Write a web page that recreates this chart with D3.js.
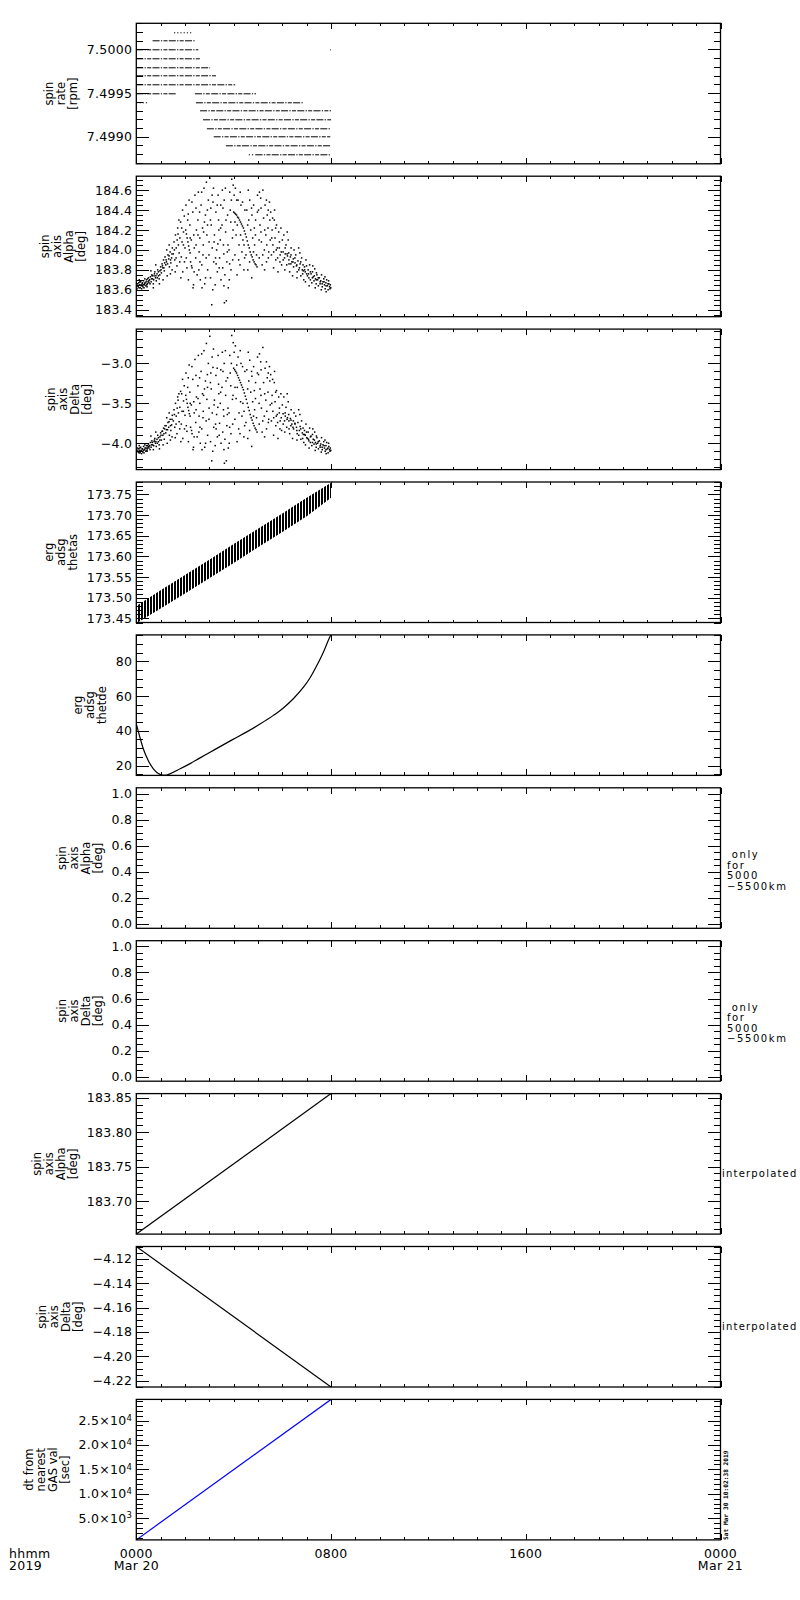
<!DOCTYPE html>
<html><head><meta charset="utf-8">
<script src="https://cdn.jsdelivr.net/npm/d3@7"></script>
<style>
body{margin:0;background:#fff;}
svg{display:block;font-family:"DejaVu Sans",sans-serif;}
</style></head><body>
<svg id="chart" width="800" height="1600"></svg>
<script>
// ---------------- DATA ----------------
const titles = [
  ["spin","rate","[rpm]"],
  ["spin","axis","Alpha","[deg]"],
  ["spin","axis","Delta","[deg]"],
  ["erg","adsg","thetas"],
  ["erg","adsg","thetde"],
  ["spin","axis","Alpha","[deg]"],
  ["spin","axis","Delta","[deg]"],
  ["spin","axis","Alpha","[deg]"],
  ["spin","axis","Delta","[deg]"],
  ["dt from","nearest","GAS val","[sec]"]
];
const yDomains = [
  [7.49869, 7.50030], [183.33, 184.74], [-4.33, -2.57], [173.44, 173.78], [14.3, 95.3],
  [-0.035, 1.044], [-0.035, 1.044], [183.652, 183.856], [-4.2251, -4.110], [540, 29340]
];
const yMajorTicks = [
  [7.4990, 7.4995, 7.5000],
  [183.4, 183.6, 183.8, 184.0, 184.2, 184.4, 184.6],
  [-4.0, -3.5, -3.0],
  [173.45, 173.50, 173.55, 173.60, 173.65, 173.70, 173.75],
  [20, 40, 60, 80],
  [0.0, 0.2, 0.4, 0.6, 0.8, 1.0],
  [0.0, 0.2, 0.4, 0.6, 0.8, 1.0],
  [183.70, 183.75, 183.80, 183.85],
  [-4.22, -4.20, -4.18, -4.16, -4.14, -4.12],
  [5000, 10000, 15000, 20000, 25000]
];
const yMinorSteps = [0.0001, 0.05, 0.1, 0.01, 5, 0.05, 0.05, 0.01, 0.005, 1000];
const yDecimals = [4, 1, 1, 2, 0, 1, 1, 2, 2, 1];
const dtTickLabels = [["5.0","3"],["1.0","4"],["1.5","4"],["2.0","4"],["2.5","4"]];

const xTickHours = [0, 8, 16, 24];
const xTickLabels = [["0000","Mar 20"],["0800",""],["1600",""],["0000","Mar 21"]];
const xCornerLabel = ["hhmm","2019"];
const sideNoteRange = [" only","for","5000","\u22125500km"];
const sideNoteInterp = "interpolated";
const stampText = "Sat Mar 30 10:02:38 2019";

// spin rate rows: [value, startHour, endHour]
const rateRows = [
  [7.5001, 0.67, 2.45], [7.5000, 0.00, 2.55], [7.4999, 0.00, 2.62], [7.4998, 0.00, 3.03],
  [7.4997, 0.00, 3.32], [7.4996, 0.00, 4.06], [7.4995, 0.00, 1.63], [7.4995, 2.41, 4.92],
  [7.4994, 2.45, 6.86], [7.4993, 2.62, 8.00], [7.4992, 2.74, 8.00], [7.4991, 2.90, 8.00],
  [7.4990, 3.18, 7.97], [7.4989, 3.68, 8.00], [7.4988, 4.90, 8.00]
];
const rateDotted = [
  [7.5002, 1.55, 2.33], [7.4994, 0.00, 0.47], [7.4988, 4.62, 4.90], [7.5000, 7.96, 7.99]
];

// spin axis alpha samples [hour, deg]
const alphaPts = [
[0.02,183.64],[0.05,183.66],[0.08,183.63],[0.10,183.67],[0.13,183.65],[0.16,183.62],[0.18,183.68],[0.21,183.64],[0.24,183.66],[0.27,183.63],[0.30,183.69],[0.33,183.65],[0.36,183.67],[0.39,183.64],[0.42,183.70],[0.45,183.66],[0.48,183.68],[0.50,183.72],[0.03,183.61],[0.12,183.70],[0.22,183.61],[0.35,183.71],[0.44,183.63],
[0.52,183.67],[0.55,183.70],[0.58,183.73],[0.61,183.68],[0.64,183.75],[0.67,183.71],[0.70,183.66],[0.73,183.74],[0.76,183.78],[0.79,183.72],[0.82,183.69],[0.85,183.76],[0.88,183.80],[0.91,183.74],[0.94,183.71],[0.97,183.79],[1.00,183.83],[0.60,183.79],[0.80,183.85],[0.95,183.66],[0.70,183.62],
[1.03,183.77],[1.06,183.86],[1.09,183.82],[1.12,183.90],[1.15,183.79],[1.18,183.93],[1.21,183.85],[1.24,183.88],[1.27,183.74],[1.30,183.95],[1.33,183.91],[1.36,183.83],[1.39,183.98],[1.42,183.87],[1.45,183.92],[1.48,184.02],[1.10,183.70],[1.25,184.00],[1.40,183.76],[1.35,184.05],[1.47,183.80],
[1.52,183.96],[1.55,184.08],[1.58,183.90],[1.61,184.15],[1.64,184.02],[1.67,183.84],[1.70,184.22],[1.73,184.05],[1.76,183.97],[1.79,184.12],[1.82,184.28],[1.85,183.93],[1.88,184.08],[1.91,183.78],[1.94,184.18],[1.97,184.34],[2.00,184.02],[1.60,183.78],[1.75,184.30],[1.90,184.40],[1.68,184.10],[1.83,183.72],[1.98,183.88],
[2.03,184.20],[2.06,184.16],[2.09,184.12],[2.12,184.08],[2.15,184.04],[2.18,184.00],[2.21,183.97],[2.04,184.45],[2.08,183.82],[2.11,184.30],[2.14,183.70],[2.17,184.50],[2.20,184.25],[2.23,183.88],[2.26,184.10],[2.29,183.82],[2.32,184.38],[2.35,183.65],[2.38,184.02],[2.41,184.55],[2.44,183.92],[2.47,184.20],[2.50,183.75],[2.27,183.84],[2.36,184.15],[2.45,184.42],[2.33,183.62],
[2.53,184.30],[2.55,184.58],[2.58,183.98],[2.61,184.12],[2.63,183.70],[2.66,184.45],[2.69,183.85],[2.72,184.22],[2.75,184.05],[2.78,184.62],[2.81,183.66],[2.84,184.35],[2.87,183.92],[2.90,184.15],[2.93,183.80],[2.96,184.50],[2.99,184.08],[2.60,184.38],[2.70,183.62],[2.80,184.28],[2.92,184.40],[2.57,183.80],[2.88,184.68],[2.74,183.95],
[3.02,184.72],[3.05,183.72],[3.08,184.25],[3.10,183.45],[3.12,184.02],[3.15,184.48],[3.18,183.88],[3.21,184.15],[3.24,183.65],[3.27,184.38],[3.30,184.00],[3.33,183.78],[3.36,184.55],[3.39,184.20],[3.42,183.92],[3.45,184.10],[3.48,183.70],[3.06,184.42],[3.17,184.62],[3.28,183.86],[3.38,184.30],[3.47,184.45],[3.14,183.60],[3.35,184.06],
[3.52,184.25],[3.55,183.82],[3.58,184.05],[3.61,184.50],[3.62,183.47],[3.64,183.75],[3.67,184.18],[3.70,183.49],[3.72,183.88],[3.75,184.35],[3.78,183.62],[3.81,184.00],[3.84,184.58],[3.86,184.40],[3.89,183.80],[3.92,184.71],[3.95,184.12],[3.98,184.65],[3.56,184.42],[3.66,184.62],[3.74,183.98],[3.82,183.70],[3.88,184.28],[3.96,183.90],[3.60,183.64],
[4.00,184.38],[4.04,184.37],[4.08,184.36],[4.12,184.35],[4.16,184.33],[4.20,184.32],[4.24,184.30],[4.28,184.28],[4.32,184.26],[4.36,184.24],[4.40,184.22],[4.44,184.19],[4.48,184.16],
[4.02,184.55],[4.05,183.95],[4.10,184.15],[4.14,183.75],[4.18,184.50],[4.22,184.05],[4.26,183.85],[4.30,184.45],[4.34,183.98],[4.38,184.10],[4.42,183.80],[4.46,184.40],[4.07,184.62],[4.27,184.58],[4.45,183.92],[4.15,184.25],
[4.52,184.13],[4.56,184.09],[4.60,184.05],[4.64,184.02],[4.68,183.98],[4.72,183.95],[4.76,183.93],[4.80,183.90],[4.84,183.88],[4.88,183.86],[4.92,183.85],[4.96,183.83],
[4.54,184.40],[4.58,183.80],[4.62,184.30],[4.66,184.50],[4.70,184.20],[4.74,183.72],[4.78,184.12],[4.82,184.45],[4.86,184.05],[4.90,184.30],[4.94,183.95],[4.98,184.55],[4.60,184.60],[4.85,184.22],[4.75,184.35],
[5.02,184.40],[5.05,183.92],[5.08,184.25],[5.11,184.52],[5.14,184.08],[5.17,183.85],[5.20,184.60],[5.23,184.32],[5.26,184.00],[5.29,184.45],[5.32,184.15],[5.35,183.88],[5.38,184.35],[5.41,184.22],[5.44,183.98],[5.47,184.48],[5.50,184.10],[5.12,184.18],[5.27,183.80],[5.42,184.40],[5.06,184.58],[5.36,184.05],
[5.52,184.38],[5.55,183.95],[5.58,184.20],[5.61,184.05],[5.64,183.82],[5.67,184.30],[5.70,184.12],[5.73,183.90],[5.76,184.25],[5.79,184.02],[5.82,183.78],[5.85,184.18],[5.88,184.08],[5.91,183.95],[5.94,184.22],[5.97,183.85],[6.00,184.10],[5.60,184.32],[5.75,184.00],[5.90,183.88],[5.68,184.40],
[6.03,183.98],[6.06,184.15],[6.09,183.92],[6.12,183.96],[6.15,184.05],[6.18,183.85],[6.21,183.94],[6.24,184.10],[6.27,183.90],[6.30,183.78],[6.33,183.93],[6.36,184.02],[6.39,183.88],[6.42,183.74],[6.45,183.91],[6.48,184.00],[6.10,183.80],[6.20,184.18],[6.35,183.86],[6.46,183.83],[6.26,183.97],
[6.52,183.87],[6.55,183.95],[6.58,183.84],[6.61,183.78],[6.64,183.89],[6.67,184.02],[6.70,183.82],[6.73,183.86],[6.76,183.74],[6.79,183.92],[6.82,183.80],[6.85,183.85],[6.88,183.70],[6.91,183.83],[6.94,183.78],[6.97,183.90],[7.00,183.76],[6.60,183.72],[6.72,183.97],[6.86,183.79],[6.95,183.68],
[7.03,183.74],[7.06,183.80],[7.09,183.72],[7.12,183.85],[7.15,183.70],[7.18,183.76],[7.21,183.67],[7.24,183.78],[7.27,183.73],[7.30,183.69],[7.33,183.81],[7.36,183.71],[7.39,183.66],[7.42,183.75],[7.45,183.70],[7.48,183.64],[7.10,183.64],[7.25,183.84],[7.40,183.77],[7.35,183.62],
[7.52,183.72],[7.55,183.66],[7.58,183.69],[7.61,183.75],[7.64,183.63],[7.67,183.68],[7.70,183.71],[7.73,183.65],[7.76,183.61],[7.79,183.67],[7.82,183.70],[7.85,183.64],[7.88,183.60],[7.91,183.66],[7.94,183.63],[7.97,183.65],[7.99,183.62],[7.60,183.60],[7.75,183.73],[7.90,183.69],[7.80,183.58],
[0.015,183.66],[0.065,183.64],[0.115,183.62],[0.145,183.68],[0.195,183.65],[0.255,183.67],[0.285,183.65],[0.315,183.62],[0.345,183.66],[0.405,183.68],[0.435,183.65],[0.465,183.71],[0.515,183.69],[0.565,183.66],[0.625,183.71],[0.655,183.74],[0.715,183.70],[0.745,183.76],[0.805,183.74],[0.865,183.72],[0.905,183.78],[0.965,183.75],[1.015,183.80],[1.075,183.84],[1.135,183.82],[1.165,183.87],[1.225,183.90],[1.285,183.86],[1.345,183.94],[1.405,183.90],[1.465,183.96],
[1.565,184.00],[1.635,183.92],[1.715,184.16],[1.785,183.88],[1.865,184.22],[1.935,184.05],[2.055,183.92],[2.135,184.36],[2.215,184.12],[2.285,184.48],[2.375,183.78],[2.455,184.05],[2.535,184.15],[2.615,183.88],[2.685,184.58],[2.765,184.18],[2.845,183.72],[2.925,184.25],[2.985,183.95],[3.045,184.30],[3.115,184.55],[3.195,184.08],[3.255,183.92],[3.325,184.45],[3.405,183.82],[3.465,184.22],[3.535,184.60],[3.595,183.96],[3.685,184.30],[3.765,184.05],[3.835,183.86],[3.905,184.50],[3.975,184.20],[4.055,184.28],[4.125,184.50],[4.205,183.90],[4.285,184.15],[4.365,184.48],[4.425,184.05],[4.505,183.95],[4.575,184.25],[4.655,183.88],[4.735,184.42],[4.815,183.98],[4.895,184.15],[4.975,184.38],[5.045,184.10],[5.125,184.42],[5.195,183.95],[5.275,184.20],[5.345,184.50],[5.425,183.92],[5.485,184.30],
[5.565,184.12],[5.645,183.98],[5.725,184.22],[5.805,183.92],[5.875,184.02],[5.955,183.98],[6.035,183.90],[6.115,184.02],[6.195,183.96],[6.275,183.86],[6.355,183.95],[6.435,183.88],[6.515,183.92],[6.595,183.85],[6.675,183.80],[6.755,183.88],[6.835,183.76],[6.915,183.80],[6.995,183.84],[7.075,183.76],[7.155,183.78],[7.235,183.72],[7.315,183.74],[7.395,183.70],[7.475,183.72],[7.555,183.68],[7.635,183.66],[7.715,183.68],[7.795,183.64],[7.875,183.66],[7.955,183.61]
];

// spin axis delta samples [hour, deg]
const deltaPts = [
[0.02,-4.09],[0.05,-4.06],[0.08,-4.11],[0.10,-4.07],[0.13,-4.09],[0.16,-4.12],[0.18,-4.05],[0.21,-4.10],[0.24,-4.07],[0.27,-4.11],[0.30,-4.04],[0.33,-4.08],[0.36,-4.06],[0.39,-4.10],[0.42,-4.03],[0.45,-4.07],[0.48,-4.05],[0.50,-4.01],[0.12,-4.03],[0.22,-4.13],[0.35,-4.02],[0.44,-4.10],
[0.52,-4.06],[0.55,-4.03],[0.58,-3.99],[0.61,-4.05],[0.64,-3.97],[0.67,-4.02],[0.70,-4.08],[0.73,-3.98],[0.76,-3.94],[0.79,-4.00],[0.82,-4.04],[0.85,-3.95],[0.88,-3.90],[0.91,-3.98],[0.94,-4.02],[0.97,-3.92],[1.00,-3.87],[0.60,-3.91],[0.80,-3.86],[0.95,-4.07],
[1.03,-3.96],[1.06,-3.85],[1.09,-3.90],[1.12,-3.81],[1.15,-3.95],[1.18,-3.78],[1.21,-3.87],[1.24,-3.83],[1.27,-4.00],[1.30,-3.74],[1.33,-3.80],[1.36,-3.90],[1.39,-3.70],[1.42,-3.84],[1.45,-3.77],[1.48,-3.65],[1.10,-4.02],[1.25,-3.68],[1.40,-3.96],[1.35,-3.62],[1.47,-3.92],
[1.52,-3.72],[1.55,-3.58],[1.58,-3.80],[1.61,-3.50],[1.64,-3.66],[1.67,-3.88],[1.70,-3.42],[1.73,-3.62],[1.76,-3.73],[1.79,-3.55],[1.82,-3.35],[1.85,-3.76],[1.88,-3.60],[1.91,-3.94],[1.94,-3.47],[1.97,-3.28],[2.00,-3.65],[1.60,-3.93],[1.75,-3.38],[1.90,-3.20],[1.68,-3.56],[1.83,-3.98],[1.98,-3.82],
[2.03,-3.40],[2.06,-3.45],[2.09,-3.50],[2.12,-3.55],[2.15,-3.59],[2.18,-3.63],[2.21,-3.66],[2.04,-3.12],[2.08,-3.85],[2.11,-3.30],[2.14,-3.98],[2.17,-3.02],[2.20,-3.36],[2.23,-3.80],[2.26,-3.52],[2.29,-3.88],[2.32,-3.20],[2.35,-4.05],[2.38,-3.62],[2.41,-2.95],[2.44,-3.74],[2.47,-3.42],[2.50,-3.92],[2.27,-3.84],[2.36,-3.48],[2.45,-3.15],[2.33,-4.08],
[2.53,-3.28],[2.55,-2.90],[2.58,-3.66],[2.61,-3.50],[2.63,-4.00],[2.66,-3.10],[2.69,-3.82],[2.72,-3.38],[2.75,-3.60],[2.78,-2.84],[2.81,-4.05],[2.84,-3.22],[2.87,-3.72],[2.90,-3.45],[2.93,-3.90],[2.96,-3.00],[2.99,-3.56],[2.60,-3.18],[2.70,-4.08],[2.80,-3.32],[2.92,-3.14],[2.57,-3.86],[2.88,-2.75],[2.74,-3.68],
[3.02,-2.66],[3.05,-3.98],[3.08,-3.32],[3.10,-4.22],[3.12,-3.62],[3.15,-3.05],[3.18,-3.80],[3.21,-3.46],[3.24,-4.03],[3.27,-3.15],[3.30,-3.64],[3.33,-3.92],[3.36,-2.90],[3.39,-3.38],[3.42,-3.75],[3.45,-3.50],[3.48,-4.00],[3.06,-3.12],[3.17,-2.82],[3.28,-3.82],[3.38,-3.26],[3.47,-3.08],[3.14,-4.10],[3.35,-3.55],
[3.52,-3.30],[3.55,-3.86],[3.58,-3.58],[3.61,-3.00],[3.62,-4.25],[3.64,-3.95],[3.67,-3.40],[3.70,-4.22],[3.72,-3.78],[3.75,-3.18],[3.78,-4.06],[3.81,-3.62],[3.84,-2.90],[3.86,-3.12],[3.89,-3.88],[3.92,-2.65],[3.95,-3.45],[3.98,-2.74],[3.56,-3.10],[3.66,-2.84],[3.74,-3.64],[3.82,-4.00],[3.88,-3.28],[3.96,-3.76],[3.60,-4.08],
[4.00,-3.06],[4.04,-3.08],[4.08,-3.10],[4.12,-3.12],[4.16,-3.15],[4.20,-3.18],[4.24,-3.21],[4.28,-3.24],[4.32,-3.27],[4.36,-3.30],[4.40,-3.33],[4.44,-3.37],[4.48,-3.41],
[4.02,-2.86],[4.05,-3.70],[4.10,-3.44],[4.14,-3.98],[4.18,-2.92],[4.22,-3.62],[4.26,-3.88],[4.30,-3.00],[4.34,-3.66],[4.38,-3.50],[4.42,-3.92],[4.46,-3.10],[4.07,-2.78],[4.27,-2.84],[4.45,-3.78],[4.15,-3.30],
[4.52,-3.45],[4.56,-3.50],[4.60,-3.55],[4.64,-3.59],[4.68,-3.64],[4.72,-3.68],[4.76,-3.71],[4.80,-3.75],[4.84,-3.78],[4.88,-3.81],[4.92,-3.83],[4.96,-3.86],
[4.54,-3.08],[4.58,-3.94],[4.62,-3.22],[4.66,-2.96],[4.70,-3.36],[4.74,-4.04],[4.78,-3.48],[4.82,-3.04],[4.86,-3.58],[4.90,-3.24],[4.94,-3.68],[4.98,-2.92],[4.60,-2.86],[4.85,-3.34],[4.75,-3.16],
[5.02,-3.14],[5.05,-3.76],[5.08,-3.32],[5.11,-2.98],[5.14,-3.56],[5.17,-3.86],[5.20,-2.80],[5.23,-3.24],[5.26,-3.66],[5.29,-3.06],[5.32,-3.46],[5.35,-3.82],[5.38,-3.18],[5.41,-3.36],[5.44,-3.70],[5.47,-3.04],[5.50,-3.52],[5.12,-3.40],[5.27,-3.92],[5.42,-3.12],[5.06,-2.88],[5.36,-3.60],
[5.52,-3.14],[5.55,-3.72],[5.58,-3.40],[5.61,-3.60],[5.64,-3.90],[5.67,-3.24],[5.70,-3.48],[5.73,-3.78],[5.76,-3.34],[5.79,-3.64],[5.82,-3.94],[5.85,-3.42],[5.88,-3.56],[5.91,-3.72],[5.94,-3.38],[5.97,-3.84],[6.00,-3.52],[5.60,-3.20],[5.75,-3.66],[5.90,-3.82],[5.68,-3.10],
[6.03,-3.63],[6.06,-3.42],[6.09,-3.72],[6.12,-3.66],[6.15,-3.55],[6.18,-3.80],[6.21,-3.68],[6.24,-3.48],[6.27,-3.72],[6.30,-3.88],[6.33,-3.69],[6.36,-3.58],[6.39,-3.76],[6.42,-3.94],[6.45,-3.72],[6.48,-3.62],[6.10,-3.86],[6.20,-3.38],[6.35,-3.78],[6.46,-3.82],[6.26,-3.64],
[6.52,-3.76],[6.55,-3.66],[6.58,-3.80],[6.61,-3.88],[6.64,-3.74],[6.67,-3.58],[6.70,-3.84],[6.73,-3.79],[6.76,-3.95],[6.79,-3.72],[6.82,-3.87],[6.85,-3.81],[6.88,-3.99],[6.91,-3.84],[6.94,-3.90],[6.97,-3.76],[7.00,-3.93],[6.60,-3.96],[6.72,-3.64],[6.86,-3.89],[6.95,-4.02],
[7.03,-3.94],[7.06,-3.86],[7.09,-3.97],[7.12,-3.81],[7.15,-3.99],[7.18,-3.91],[7.21,-4.03],[7.24,-3.89],[7.27,-3.95],[7.30,-4.01],[7.33,-3.86],[7.36,-3.99],[7.39,-4.05],[7.42,-3.93],[7.45,-4.00],[7.48,-4.07],[7.10,-4.06],[7.25,-3.82],[7.40,-3.91],[7.35,-4.09],
[7.52,-3.97],[7.55,-4.05],[7.58,-4.01],[7.61,-3.93],[7.64,-4.08],[7.67,-4.02],[7.70,-3.98],[7.73,-4.06],[7.76,-4.10],[7.79,-4.03],[7.82,-3.99],[7.85,-4.07],[7.88,-4.12],[7.91,-4.04],[7.94,-4.08],[7.97,-4.06],[7.99,-4.09],[7.60,-4.11],[7.75,-3.96],[7.90,-4.00],[7.80,-4.13],
[0.015,-4.08],[0.065,-4.10],[0.115,-4.12],[0.145,-4.06],[0.195,-4.09],[0.255,-4.07],[0.285,-4.09],[0.315,-4.12],[0.345,-4.08],[0.405,-4.06],[0.435,-4.09],[0.465,-4.03],[0.515,-4.04],[0.565,-4.08],[0.625,-4.02],[0.655,-3.99],[0.715,-4.03],[0.745,-3.96],[0.805,-3.98],[0.865,-4.00],[0.905,-3.93],[0.965,-3.96],[1.015,-3.90],[1.075,-3.85],[1.135,-3.88],[1.165,-3.82],[1.225,-3.78],[1.285,-3.83],[1.345,-3.73],[1.405,-3.78],[1.465,-3.70],
[1.565,-3.64],[1.635,-3.76],[1.715,-3.46],[1.785,-3.82],[1.865,-3.38],[1.935,-3.60],[2.055,-3.78],[2.135,-3.18],[2.215,-3.50],[2.285,-3.04],[2.375,-3.92],[2.455,-3.58],[2.535,-3.44],[2.615,-3.80],[2.685,-2.88],[2.765,-3.40],[2.845,-4.00],[2.925,-3.30],[2.985,-3.70],[3.045,-3.24],[3.115,-2.92],[3.195,-3.52],[3.255,-3.76],[3.325,-3.06],[3.405,-3.90],[3.465,-3.36],[3.535,-2.86],[3.595,-3.66],[3.685,-3.22],[3.765,-3.56],[3.835,-3.80],[3.905,-3.00],[3.975,-3.40],[4.055,-3.30],[4.125,-3.02],[4.205,-3.82],[4.285,-3.48],[4.365,-3.04],[4.425,-3.60],[4.505,-3.74],[4.575,-3.32],[4.655,-3.84],[4.735,-3.10],[4.815,-3.66],[4.895,-3.44],[4.975,-3.12],[5.045,-3.50],[5.125,-3.08],[5.195,-3.72],[5.275,-3.38],[5.345,-2.98],[5.425,-3.74],[5.485,-3.22],
[5.565,-3.50],[5.645,-3.68],[5.725,-3.36],[5.805,-3.74],[5.875,-3.62],[5.955,-3.68],[6.035,-3.76],[6.115,-3.62],[6.195,-3.70],[6.275,-3.82],[6.355,-3.71],[6.435,-3.80],[6.515,-3.75],[6.595,-3.84],[6.675,-3.90],[6.755,-3.82],[6.835,-3.94],[6.915,-3.89],[6.995,-3.86],[7.075,-3.95],[7.155,-3.92],[7.235,-3.99],[7.315,-3.96],[7.395,-4.01],[7.475,-3.98],[7.555,-4.03],[7.635,-4.05],[7.715,-4.03],[7.795,-4.08],[7.875,-4.06],[7.955,-4.10]
];

// erg adsg thetas band envelope
const thetasHours = [0, 1, 2, 3, 4, 5, 6, 7, 8];
const thetasUpper = [173.480, 173.518, 173.555, 173.592, 173.630, 173.667, 173.704, 173.742, 173.778];
const thetasLower = [173.438, 173.474, 173.510, 173.547, 173.584, 173.622, 173.659, 173.697, 173.742];

// erg adsg thetde curve [hour, value]
const thetdePts = [
  [0.00,44.0],[0.15,36.2],[0.29,29.5],[0.49,22.9],[0.70,18.1],[0.97,14.9],[1.18,14.3],[1.38,15.2],
  [1.80,18.1],[2.21,21.1],[2.62,24.4],[3.03,27.6],[3.44,30.9],[3.99,35.2],[4.54,39.4],[5.08,43.9],
  [5.63,48.9],[6.04,53.2],[6.45,58.5],[6.86,65.0],[7.14,70.6],[7.41,77.5],[7.69,85.5],[7.89,92.2],[7.99,95.3]
];
// interpolated spin axis and dt
const alphaInterp = [[0, 183.652], [8, 183.856]];
const deltaInterp = [[0, -4.110], [8, -4.2251]];
const dtFromGas = [[0, 540], [8, 29340]];

// ---------------- LAYOUT ----------------
const X0 = 136.3, X1 = 720.5, TOP0 = 23.3, STEP = 152.9, PH = 140.5;
const FONT = '"DejaVu Sans", sans-serif';
const x = d3.scaleLinear().domain([0, 24]).range([X0, X1]);
const svg = d3.select('#chart');
const defs = svg.append('defs');
defs.append('pattern').attr('id', 'hatch').attr('width', 3).attr('height', 3)
  .attr('patternUnits', 'userSpaceOnUse')
  .append('rect').attr('width', 2).attr('height', 3).attr('fill', '#000');

function stepRange(d0, d1, step) {
  const lo = Math.min(d0, d1), hi = Math.max(d0, d1), out = [];
  const k0 = Math.ceil(lo / step - 1e-6), k1 = Math.floor(hi / step + 1e-6);
  for (let k = k0; k <= k1; k++) out.push(+(k * step).toFixed(8));
  return out;
}
const hours = d3.range(0, 25, 1);
const minorHours = hours.filter(h => !xTickHours.includes(h));

function styleAxis(g) {
  g.select('.domain').remove();
  g.selectAll('line').attr('stroke', '#000').attr('stroke-width', 1).attr('shape-rendering', 'crispEdges');
  g.attr('font-family', FONT).attr('font-size', 12.5);
  g.selectAll('text').attr('fill', '#000').attr('letter-spacing', '0.3px');
}

for (let i = 0; i < 10; i++) {
  const top = TOP0 + i * STEP;
  const g = svg.append('g').attr('transform', `translate(0,${top})`);
  const y = d3.scaleLinear().domain(yDomains[i]).range([PH, 0]);
  defs.append('clipPath').attr('id', 'clip' + i).append('rect')
    .attr('x', X0).attr('y', 0).attr('width', X1 - X0).attr('height', PH);
  const plot = g.append('g').attr('clip-path', `url(#clip${i})`);

  // ---- data ----
  if (i === 0) {
    plot.selectAll('line.row').data(rateRows).join('line')
      .attr('x1', d => x(d[1])).attr('x2', d => x(d[2]))
      .attr('y1', d => Math.round(y(d[0])) + 0.5).attr('y2', d => Math.round(y(d[0])) + 0.5)
      .attr('stroke', '#000').attr('stroke-width', 1).attr('stroke-dasharray', '7,1.3,1.3,1.3,4,1.3');
    plot.selectAll('line.dot').data(rateDotted).join('line')
      .attr('x1', d => x(d[1])).attr('x2', d => x(d[2]))
      .attr('y1', d => Math.round(y(d[0])) + 0.5).attr('y2', d => Math.round(y(d[0])) + 0.5)
      .attr('stroke', '#000').attr('stroke-width', 1).attr('stroke-dasharray', '1.2,2');
  } else if (i === 1 || i === 2) {
    const pts = i === 1 ? alphaPts : deltaPts;
    plot.selectAll('rect').data(pts).join('rect')
      .attr('x', d => x(d[0]) - 0.75).attr('y', d => y(d[1]) - 0.75)
      .attr('width', 1.5).attr('height', 1.5).attr('fill', '#000');
  } else if (i === 3) {
    const band = thetasHours.map((h, k) => [h, thetasLower[k], thetasUpper[k]]);
    plot.append('path').datum(band)
      .attr('d', d3.area().x(d => x(d[0])).y0(d => y(d[1])).y1(d => y(d[2])))
      .attr('fill', 'url(#hatch)').attr('stroke', 'none');
  } else if (i === 4) {
    plot.append('path').datum(thetdePts)
      .attr('d', d3.line().x(d => x(d[0])).y(d => y(d[1])).curve(d3.curveMonotoneX))
      .attr('fill', 'none').attr('stroke', '#000').attr('stroke-width', 1.2);
  } else if (i >= 7) {
    const ser = i === 7 ? alphaInterp : (i === 8 ? deltaInterp : dtFromGas);
    plot.append('path').datum(ser)
      .attr('d', d3.line().x(d => x(d[0])).y(d => y(d[1])))
      .attr('fill', 'none').attr('stroke', i === 9 ? '#0000ff' : '#000').attr('stroke-width', 1.2);
  }

  // ---- y axes ----
  const minor = stepRange(yDomains[i][0], yDomains[i][1], yMinorSteps[i]);
  const major = yMajorTicks[i];
  const fmt = d3.format(`.${yDecimals[i]}f`);
  g.append('g').attr('transform', `translate(${X0},0)`)
    .call(d3.axisLeft(y).tickValues(minor).tickSize(-6.5).tickFormat('')).call(styleAxis);
  const leftMajor = g.append('g').attr('transform', `translate(${X0},0)`)
    .call(d3.axisLeft(y).tickValues(major).tickSize(-12.5).tickPadding(4).tickFormat(fmt)).call(styleAxis);
  if (i === 9) {
    leftMajor.selectAll('.tick text').each(function(d, k) {
      const t = d3.select(this);
      t.text(null);
      t.append('tspan').text(dtTickLabels[k][0] + '\u00d710');
      t.append('tspan').attr('dy', '-0.5em').attr('font-size', '8.5px').text(dtTickLabels[k][1]);
    });
  }
  g.append('g').attr('transform', `translate(${X1},0)`)
    .call(d3.axisRight(y).tickValues(minor).tickSize(-6.5).tickFormat('')).call(styleAxis);
  g.append('g').attr('transform', `translate(${X1},0)`)
    .call(d3.axisRight(y).tickValues(major).tickSize(-12.5).tickFormat('')).call(styleAxis);

  // ---- x axes ----
  g.append('g').attr('transform', `translate(0,${PH})`)
    .call(d3.axisBottom(x).tickValues(minorHours).tickSize(-3).tickFormat('')).call(styleAxis);
  g.append('g').attr('transform', `translate(0,${PH})`)
    .call(d3.axisBottom(x).tickValues(xTickHours).tickSize(-6).tickFormat('')).call(styleAxis);
  g.append('g').call(d3.axisTop(x).tickValues(minorHours).tickSize(-3).tickFormat('')).call(styleAxis);
  g.append('g').call(d3.axisTop(x).tickValues(xTickHours).tickSize(-6).tickFormat('')).call(styleAxis);

  // ---- frame ----
  g.append('rect').attr('x', X0).attr('y', 0).attr('width', X1 - X0).attr('height', PH)
    .attr('fill', 'none').attr('stroke', '#000').attr('stroke-width', 1.3);

  // ---- title ----
  let labelLeft = X0;
  leftMajor.selectAll('.tick text').each(function() {
    const b = this.getBBox();
    labelLeft = Math.min(labelLeft, X0 + b.x);
  });
  const lines = titles[i];
  const lastX = labelLeft - 10;
  lines.forEach((ln, j) => {
    const lx = lastX - (lines.length - 1 - j) * 12;
    g.append('text').attr('transform', `translate(${lx},${PH / 2}) rotate(-90)`)
      .attr('text-anchor', 'middle').attr('font-family', FONT).attr('font-size', 11.5)
      .attr('fill', '#000').text(ln);
  });

  // ---- side notes ----
  if (i === 5 || i === 6) {
    sideNoteRange.forEach((ln, j) => {
      g.append('text').attr('x', 727).attr('y', PH / 2 + j * 10.5)
        .attr('font-family', FONT).attr('font-size', 10).attr('letter-spacing', '1.6px')
        .style('white-space', 'pre').attr('fill', '#000').text(ln);
    });
  }
  if (i === 7 || i === 8) {
    g.append('text').attr('x', 722).attr('y', PH / 2 + 13)
      .attr('font-family', FONT).attr('font-size', 10).attr('letter-spacing', '1.2px')
      .attr('fill', '#000').text(sideNoteInterp);
  }
  if (i === 9) {
    g.append('text').attr('transform', `translate(728,${PH}) rotate(-90)`)
      .attr('font-family', '"DejaVu Sans Mono", monospace').attr('font-size', 6.2)
      .attr('font-weight', 'bold').attr('fill', '#000').text(stampText);
    const bottom = PH;
    xTickHours.forEach((h, k) => {
      xTickLabels[k].forEach((ln, j) => {
        if (!ln) return;
        g.append('text').attr('x', x(h)).attr('y', bottom + 18 + j * 12)
          .attr('text-anchor', 'middle').attr('font-family', FONT).attr('font-size', 12.5)
          .attr('letter-spacing', '0.3px').attr('fill', '#000').text(ln);
      });
    });
    xCornerLabel.forEach((ln, j) => {
      g.append('text').attr('x', 9).attr('y', bottom + 18 + j * 12)
        .attr('font-family', FONT).attr('font-size', 12.5).attr('letter-spacing', '0.3px')
        .attr('fill', '#000').text(ln);
    });
  }
}
</script></body></html>
